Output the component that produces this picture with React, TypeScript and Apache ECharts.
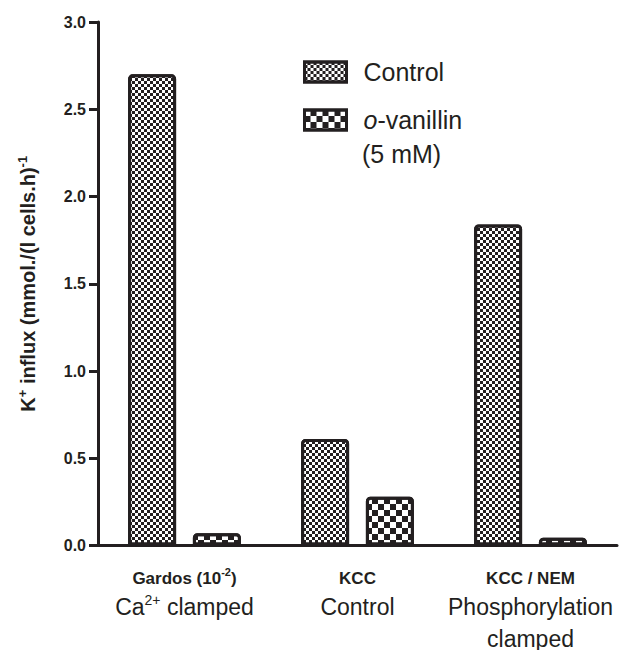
import React, { useEffect, useRef } from "react";
import * as echarts from "echarts";

const categories = ["Gardos", "KCC", "KCC / NEM"];
const controlValues = [2.7, 0.61, 1.84];
const vanillinValues = [0.07, 0.28, 0.045];
const seriesNames = ["Control", "o-vanillin"];
const yTicks = { min: 0, max: 3, interval: 0.5 };

const INK = "#231f20";
const FONT = "'Liberation Sans', Arial, Helvetica, sans-serif";

const catLabel: Record<string, string> = {
  Gardos: "{b|Gardos (10}{bs|-2}{b|)}\n{l|Ca}{ls|2+}{l| clamped}",
  KCC: "{b|KCC}\n{l|Control}",
  "KCC / NEM": "{b|KCC / NEM}\n{l|Phosphorylation}\n{l|clamped}",
};

export default function App() {
  const ref = useRef<HTMLDivElement>(null);
  useEffect(() => {
    if (!ref.current) return;
    const chart = echarts.init(ref.current, null, { renderer: "svg" });
    const fineDecal = {
      symbol: "rect",
      symbolSize: 1,
      dashArrayX: [[3, 3], [0, 3, 3, 0]],
      dashArrayY: [3, 0],
      color: INK,
      backgroundColor: "#fff",
    };
    const coarseDecal = {
      symbol: "rect",
      symbolSize: 1,
      dashArrayX: [[6, 6], [0, 6, 6, 0]],
      dashArrayY: [6, 0],
      color: INK,
      backgroundColor: "#fff",
    };
    chart.setOption({
      animation: false,
      textStyle: { fontFamily: FONT, color: INK },
      grid: { left: 98, right: 17, top: 22, bottom: 103, containLabel: false },
      legend: {
        orient: "vertical",
        left: 303,
        top: 58,
        padding: 0,
        itemWidth: 42,
        itemHeight: 20,
        itemGap: 20,
        icon: "rect",
        data: seriesNames,
        textStyle: {
          fontFamily: FONT,
          fontSize: 25,
          lineHeight: 28,
          color: INK,
          padding: [0, 0, 0, 12],
          rich: {
            i: { fontFamily: FONT, fontSize: 25, fontStyle: "italic", color: INK, lineHeight: 28 },
          },
        },
        formatter: (name: string) => (name === "o-vanillin" ? "{i|o}-vanillin" : name),
        itemStyle: { borderColor: INK, borderWidth: 3 },
      },
      graphic: [
        {
          type: "text",
          left: 362,
          top: 141,
          style: { text: "(5 mM)", fontFamily: FONT, fontSize: 25, fill: INK },
        },
      ],
      xAxis: {
        type: "category",
        data: categories,
        axisLine: { lineStyle: { color: INK, width: 3 } },
        axisTick: { alignWithLabel: true, length: 8, lineStyle: { color: INK, width: 3 } },
        axisLabel: {
          interval: 0,
          margin: 21,
          formatter: (v: string) => catLabel[v] || v,
          rich: {
            b: { fontFamily: FONT, fontSize: 17, fontWeight: "bold", color: INK, lineHeight: 24 },
            bs: { fontFamily: FONT, fontSize: 11, fontWeight: "bold", color: INK, verticalAlign: "top", lineHeight: 14 },
            l: { fontFamily: FONT, fontSize: 23, color: INK, lineHeight: 32 },
            ls: { fontFamily: FONT, fontSize: 14, color: INK, verticalAlign: "top", lineHeight: 16, padding: [2, 0, 0, 0] },
          },
        },
      },
      yAxis: {
        type: "value",
        min: yTicks.min,
        max: yTicks.max,
        interval: yTicks.interval,
        name: "{n|K}{s|+}{n| influx (mmol./(l cells.h)}{s|-1}",
        nameLocation: "middle",
        nameGap: 58,
        nameTextStyle: {
          rich: {
            n: { fontFamily: FONT, fontSize: 20, fontWeight: "bold", color: INK, lineHeight: 24 },
            s: { fontFamily: FONT, fontSize: 13, fontWeight: "bold", color: INK, verticalAlign: "top", lineHeight: 16 },
          },
        },
        axisLine: { show: true, lineStyle: { color: INK, width: 3 } },
        axisTick: { show: true, length: 9, lineStyle: { color: INK, width: 3 } },
        splitLine: { show: false },
        axisLabel: {
          margin: 12,
          fontFamily: FONT,
          fontSize: 16,
          fontWeight: "bold",
          color: INK,
          formatter: (v: number) => v.toFixed(1),
        },
      },
      series: [
        {
          name: seriesNames[0],
          type: "bar",
          data: controlValues,
          barWidth: 48,
          barGap: "35%",
          itemStyle: { color: "#fff", borderColor: INK, borderWidth: 3, borderRadius: [3, 3, 0, 0], decal: fineDecal },
        },
        {
          name: seriesNames[1],
          type: "bar",
          data: vanillinValues,
          barWidth: 48,
          barGap: "35%",
          itemStyle: { color: "#fff", borderColor: INK, borderWidth: 3, borderRadius: [3, 3, 0, 0], decal: coarseDecal },
        },
      ],
    });
    return () => chart.dispose();
  }, []);
  return <div ref={ref} style={{ position: "fixed", left: 0, top: 0, width: 634, height: 650, background: "#fff" }} />;
}
